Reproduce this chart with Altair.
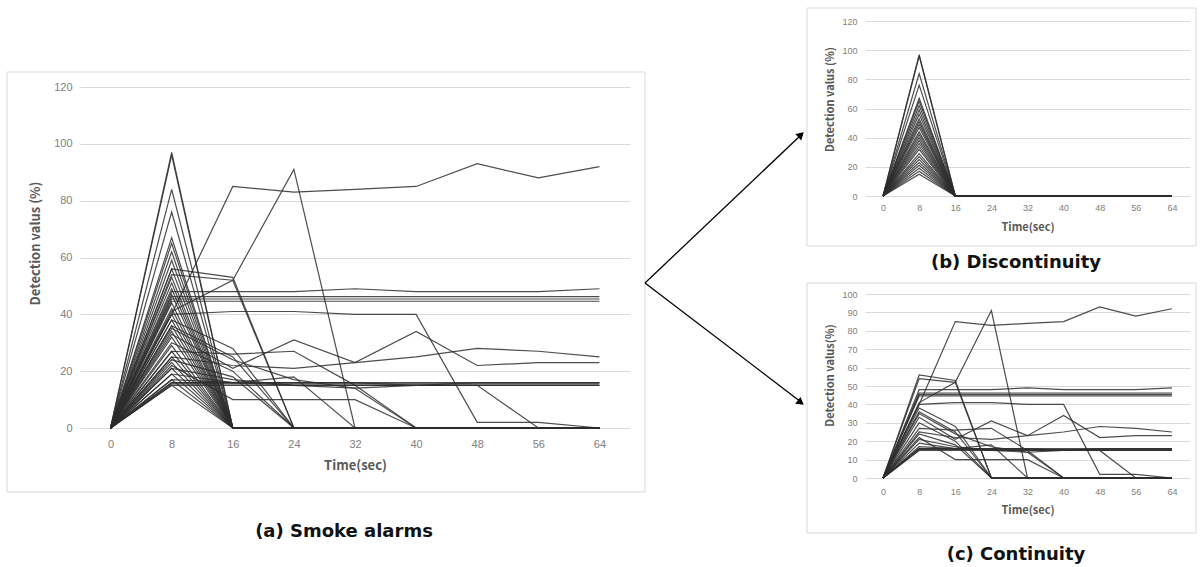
import altair as alt
import pandas as pd

# ---------------- data ----------------
TIME = [0, 8, 16, 24, 32, 40, 48, 56, 64]
Y_TICKS_A = [0, 20, 40, 60, 80, 100, 120]
Y_TICKS_C = [0, 10, 20, 30, 40, 50, 60, 70, 80, 90, 100]

# discontinuity alarms: value at 8 s, zero at 0 s and from 16 s on
DISC_PEAKS = [97, 96, 84, 76, 67, 65, 62, 59, 56, 53, 51, 49, 47, 44, 42,
              40, 38, 36, 34, 32, 29, 27, 25, 23, 21, 19, 17, 15]
DISC_REST = [0, 0, 0, 0, 0, 0, 0]

# continuity alarms (values at TIME)
C_HIGH   = [0, 40, 85, 83, 84, 85, 93, 88, 92]
C_PEAK24 = [0, 41, 52, 91, 0, 0, 0, 0, 0]
C_56     = [0, 56, 53, 0, 0, 0, 0, 0, 0]
C_54     = [0, 54, 52, 0, 0, 0, 0, 0, 0]
C_48     = [0, 48, 48, 48, 49, 48, 48, 48, 49]
C_46     = [0, 46.2, 46.2, 46.2, 46.2, 46.2, 46.2, 46.2, 46.2]
C_45A    = [0, 45.4, 45.4, 45.4, 45.4, 45.4, 45.4, 45.4, 45.4]
C_45B    = [0, 44.6, 44.6, 44.6, 44.6, 44.6, 44.6, 44.6, 44.6]
C_40     = [0, 40, 41, 41, 40, 40, 2, 2, 0]
C_34     = [0, 33, 21, 31, 23, 34, 22, 23, 23]
C_28     = [0, 25, 22, 21, 23, 25, 28, 27, 25]
C_27     = [0, 27, 26, 27, 15, 0, 0, 0, 0]
C_10     = [0, 22, 10, 10, 10, 0, 0, 0, 0]
C_18     = [0, 19, 16, 18, 0, 0, 0, 0, 0]
C_15DROP = [0, 16, 16, 16, 16, 15, 15, 0, 0]
C_16     = [0, 16, 16, 16, 16, 16, 16, 16, 16]
C_155    = [0, 15.5, 15.5, 15.5, 15.5, 15.5, 15.5, 15.5, 15.5]
C_15     = [0, 15, 15, 15, 15, 15, 15, 15, 15]
C_17     = [0, 17, 16, 15, 15, 15, 16, 16, 16]
C_38     = [0, 38, 28, 0, 0, 0, 0, 0, 0]
C_36     = [0, 36, 25, 0, 0, 0, 0, 0, 0]
C_35     = [0, 35, 24, 17, 14, 0, 0, 0, 0]
C_30     = [0, 30, 20, 0, 0, 0, 0, 0, 0]
C_24     = [0, 24, 18, 0, 0, 0, 0, 0, 0]
C_21     = [0, 21, 17, 15, 14, 15, 15, 15, 15]

CONTINUITY = [C_HIGH, C_PEAK24, C_56, C_54, C_48, C_46, C_45A, C_45B, C_40,
              C_34, C_28, C_27, C_10, C_18, C_15DROP, C_16, C_155, C_15,
              C_17, C_38, C_36, C_35, C_30, C_24, C_21]

rows_disc, rows_cont = [], []
for i, p in enumerate(DISC_PEAKS):
    vals = [0, p] + DISC_REST
    for t, v in zip(TIME, vals):
        rows_disc.append({"id": f"d{i}", "t": t, "v": v})
for i, s in enumerate(CONTINUITY):
    for t, v in zip(TIME, s):
        rows_cont.append({"id": f"c{i}", "t": t, "v": v})

df_disc = pd.DataFrame(rows_disc)
df_cont = pd.DataFrame(rows_cont)
df_all = pd.concat([df_cont, df_disc], ignore_index=True)

ONE = pd.DataFrame({"k": [0]})

LINE_COLOR = "#2e2e2e"
GRID = "#d9d9d9"
LABEL = "#808080"
TITLE = "#595959"
FRAME = "#d9d9d9"
AXFONT = "Liberation Sans"
TFONT = "Noto Sans CJK KR"
CFONT = "DejaVu Sans"


def panel(df, w, h, ymax, yticks, lab_size, lab_pad_x, lab_pad_y, ttl_size,
          xtitle_y, ytitle, ytitle_x, ytitle_y, frame, bound, caption, cap_xy,
          cap_size, extra=None):
    lines = alt.Chart(df).mark_line(color=LINE_COLOR, strokeWidth=1.2, opacity=0.85).encode(
        x=alt.X("t:Q", scale=alt.Scale(domain=[-4, 68], nice=False, zero=False),
                axis=alt.Axis(values=TIME, grid=False, domain=False, ticks=False,
                              labelPadding=lab_pad_x, labelFontSize=lab_size,
                              labelColor=LABEL, labelFont=AXFONT,
                              title="Time(sec)", titleFont=TFONT, titleFontSize=ttl_size,
                              titleColor=TITLE, titleFontWeight="bold",
                              titleY=xtitle_y, titleBaseline="middle")),
        y=alt.Y("v:Q", scale=alt.Scale(domain=[0, ymax], nice=False),
                axis=alt.Axis(values=yticks, grid=True, gridColor=GRID, gridWidth=1.2,
                              domain=False, ticks=False, labelPadding=lab_pad_y,
                              labelFontSize=lab_size, labelColor=LABEL, labelFont=AXFONT,
                              title=ytitle, titleFont=TFONT, titleFontSize=ttl_size,
                              titleColor=TITLE, titleFontWeight="bold",
                              titleX=ytitle_x, titleY=ytitle_y, titleAngle=270,
                              titleBaseline="middle", titleAlign="center")),
        detail="id:N",
    ).properties(width=w, height=h)

    bnd = alt.Chart(ONE).mark_rect(fill="white", opacity=0).encode(
        x=alt.value(bound[0]), x2=alt.value(bound[1]),
        y=alt.value(bound[2]), y2=alt.value(bound[3]))
    frm = alt.Chart(ONE).mark_rect(fill=None, stroke=FRAME, strokeWidth=1).encode(
        x=alt.value(frame[0]), x2=alt.value(frame[1]),
        y=alt.value(frame[2]), y2=alt.value(frame[3]))
    cap = alt.Chart(ONE).mark_text(font=CFONT, fontSize=cap_size, fontWeight="bold",
                                   color="#111111", align="center", baseline="middle").encode(
        x=alt.value(cap_xy[0]), y=alt.value(cap_xy[1]), text=alt.value(caption))
    layers = [bnd, frm, lines, cap]
    if extra:
        layers += extra
    return alt.layer(*layers)


# arrows (drawn in panel a, local coords)
arrow1 = alt.Chart(ONE).mark_rule(color="black", strokeWidth=1.3).encode(
    x=alt.value(565), y=alt.value(196), x2=alt.value(721), y2=alt.value(48))
arrow2 = alt.Chart(ONE).mark_rule(color="black", strokeWidth=1.3).encode(
    x=alt.value(565), y=alt.value(196), x2=alt.value(721), y2=alt.value(315))
head1 = alt.Chart(ONE).mark_point(shape="triangle-up", filled=True, size=75,
                                  color="black", opacity=1, angle=46.7).encode(
    x=alt.value(721), y=alt.value(47.7))
head2 = alt.Chart(ONE).mark_point(shape="triangle-up", filled=True, size=75,
                                  color="black", opacity=1, angle=127.3).encode(
    x=alt.value(720.8), y=alt.value(315.6))

A = panel(df_all, 550, 341, 120, Y_TICKS_A, 11, 10, 8, 13, 37,
          "Detection valus  (%)", -45, 156,
          frame=(-73, 565, -15, 405), bound=(-74, 726, -16, 458),
          caption="(a) Smoke alarms", cap_xy=(264, 445), cap_size=18,
          extra=[arrow1, arrow2, head1, head2])

B = panel(df_disc, 325, 175, 120, Y_TICKS_A, 9, 7, 8, 11, 31,
          "Detection valus (%)", -35, 78,
          frame=(-58, 331, -13, 225), bound=(-59, 333, -14, 256),
          caption="(b) Discontinuity", cap_xy=(151, 242), cap_size=18)

C = panel(df_cont, 325, 184, 100, Y_TICKS_C, 9, 9, 8, 11, 32,
          "Detection valus(%)", -35, 81,
          frame=(-58, 331, -11, 239), bound=(-59, 333, -12, 272),
          caption="(c) Continuity", cap_xy=(151, 261), cap_size=18)

# invisible spacer that lifts the right column relative to panel (a)
spacer = alt.Chart(ONE).mark_rect(opacity=0).encode(
    x=alt.value(0), x2=alt.value(10), y=alt.value(0), y2=alt.value(50)
).properties(width=10, height=50)

left = alt.vconcat(spacer, A, spacing=0)
right = alt.vconcat(B, C, spacing=5)
chart = alt.hconcat(left, right, spacing=0).properties(
    padding={"left": 6, "top": 7, "right": 0, "bottom": 0},
    background="white",
).configure_view(stroke=None)

chart.save("out.html", embed_options={"renderer": "svg", "actions": False})
